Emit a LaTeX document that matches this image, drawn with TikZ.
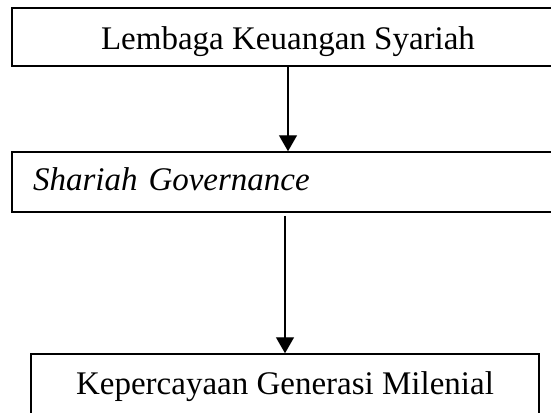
\documentclass[tikz,border=0pt]{standalone}
\usepackage{fontspec}
\setmainfont{Liberation Serif}
\usetikzlibrary{arrows.meta}
\tikzset{
  box/.style={draw, line width=1.5pt, rectangle, inner sep=0pt, font=\fontsize{33}{38}\selectfont},
  conn/.style={line width=1.4pt, -{Triangle[width=18pt,length=16pt]}}
}
\begin{document}
\begin{tikzpicture}[x=1pt,y=1pt]
\useasboundingbox (0,0) rectangle (551,-412);
\clip (0,0) rectangle (551,-412);
\node[box, minimum width=552pt, minimum height=58pt, text height=26pt, text depth=0pt] (b1) at (288,-37) {Lembaga Keuangan Syariah};
\node[box, minimum width=552pt, minimum height=60pt, text width=510pt, inner xsep=21pt, align=left, text height=24pt, text depth=8pt] (b2) at (288,-182) {\itshape Shariah Governance};
\node[box, minimum width=508pt, minimum height=66pt, text height=22pt, text depth=8pt] (b3) at (285,-387) {Kepercayaan Generasi Milenial};
\draw[conn] (b1.south) -- (b2.north);
\draw[conn, shorten <=3pt] (b2.south -| b3.north) -- (b3.north);
\end{tikzpicture}
\end{document}
